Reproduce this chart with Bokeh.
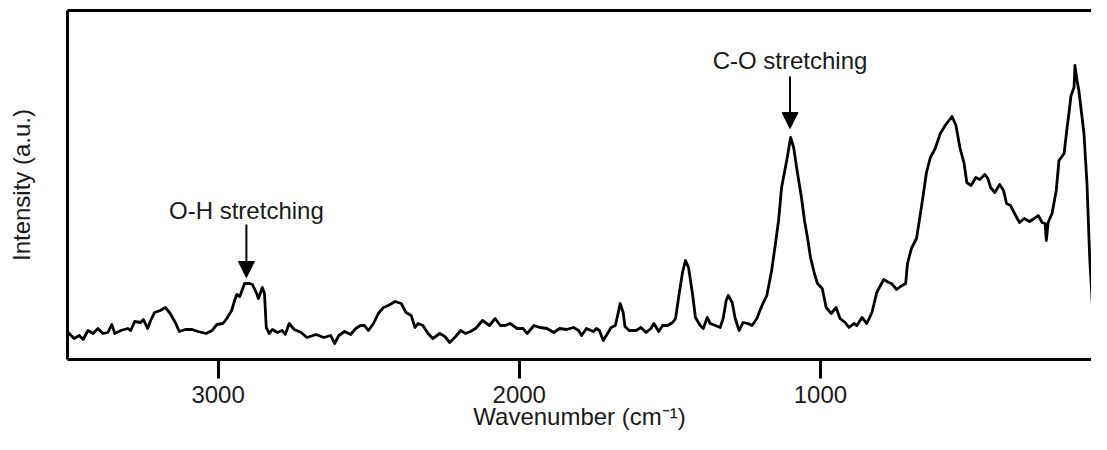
from bokeh.plotting import figure
from bokeh.models import Range1d, FixedTicker, LinearAxis, Label, Arrow, NormalHead
from bokeh.embed import file_html
from bokeh.resources import INLINE

# Raman-type spectrum (wavenumber in cm^-1, intensity in a.u.)
wavenumber = [3500, 3498, 3478, 3461, 3448, 3432, 3415, 3399, 3382, 3366, 3353, 3343, 3323, 3300, 3290, 3277, 3257, 3248, 3234, 3224,
              3211, 3192, 3175, 3159, 3142, 3129, 3109, 3086, 3067, 3040, 3020, 3004, 2984, 2971, 2955, 2945, 2938, 2928,
              2912, 2895, 2886, 2872, 2866, 2853, 2846, 2840, 2830, 2820, 2803, 2787, 2777, 2764, 2747, 2724, 2705, 2675, 2649, 2626,
              2613, 2599, 2580, 2560, 2543, 2527, 2514, 2501, 2484, 2468, 2451, 2435, 2412, 2392, 2376, 2359, 2346, 2336,
              2320, 2303, 2287, 2264, 2247, 2231, 2211, 2195, 2178, 2162, 2145, 2122, 2099, 2080, 2063, 2047, 2030, 2007, 1987, 1974,
              1951, 1932, 1908, 1885, 1866, 1843, 1820, 1803, 1793, 1777, 1754, 1744,
              1734, 1721, 1705, 1695, 1681, 1672, 1665, 1655, 1649, 1635, 1612, 1596, 1579, 1563, 1553, 1537, 1524, 1507, 1491, 1481,
              1471, 1458, 1448, 1438, 1425, 1415, 1399, 1389, 1376, 1366, 1349, 1333, 1323, 1313, 1306, 1293, 1283, 1270, 1257, 1241,
              1227, 1211, 1201, 1191, 1178,
              1162, 1148, 1139, 1129, 1112, 1099, 1089, 1076, 1063, 1053, 1043, 1033, 1020, 1010, 994, 981, 964, 948, 935, 918,
              905, 889, 879, 862, 846, 829, 813, 790, 773, 764, 747, 734, 717, 711, 698, 681, 668, 658, 648, 635,
              619, 602, 586, 576, 563, 550, 537, 523, 514, 500, 484, 471, 454, 444, 435, 421, 405, 392, 382, 369,
              352, 339, 323, 306, 290, 277, 264, 254, 250, 244, 231, 217, 208, 191, 181, 175, 168, 158, 155, 148,
              142, 125, 115, 106, 96, 89, 79]

intensity = [28, 27, 21, 24, 20, 29, 26, 31, 26, 27, 35, 26, 29, 31, 29, 38, 37, 40, 31, 39,
             47, 49, 52, 46, 37, 28, 30, 30, 28, 26, 29, 35, 36, 41, 49, 59, 65, 63,
             76, 76, 75, 66, 61, 72, 66, 32, 26, 30, 27, 29, 25, 36, 30, 27, 22, 25, 22, 24,
             16, 24, 28, 25, 31, 34, 34, 29, 36, 46, 52, 54, 58, 56, 47, 44, 32, 36,
             34, 26, 21, 26, 23, 17, 23, 29, 26, 28, 31, 39, 34, 41, 34, 34, 36, 31, 31, 26,
             34, 32, 31, 27, 31, 30, 32, 29, 24, 31, 28, 31,
             29, 19, 27, 32, 34, 46, 56, 47, 33, 29, 29, 32, 27, 31, 36, 28, 34, 34, 37, 41,
             62, 87, 99, 92, 66, 42, 34, 31, 42, 36, 34, 32, 41, 59, 64, 57, 41, 29, 37, 36,
             34, 41, 49, 56, 64,
             89, 119, 139, 172, 199, 222, 212, 186, 162, 139, 122, 102, 86, 76, 71, 52, 46, 52, 41, 37,
             32, 36, 34, 42, 36, 47, 67, 80, 77, 76, 70, 73, 76, 96, 111, 121, 146, 166, 187, 202,
             211, 226, 234, 238, 243, 234, 212, 196, 177, 174, 182, 180, 185, 181, 172, 167, 175, 169, 156, 154,
             144, 137, 141, 138, 141, 144, 137, 136, 119, 137, 146, 169, 199, 206, 232, 246, 264, 272, 294, 279,
             269, 226, 176, 102, 49, 32, 9]

x_ticks = [3000, 2000, 1000]

# annotations: text, band position (cm^-1), text baseline, arrow top, arrow tip (a.u.)
ann_text = ["O-H stretching", "C-O stretching"]
ann_x = [2906, 1101]
ann_text_y = [149, 299]
ann_arrow_top = [135, 283]
ann_arrow_tip = [82, 231]

FONT = "Liberation Sans"
FS = "24px"
TXT = "#1a1a1a"

p = figure(width=1091, height=434, x_range=Range1d(3500, 100), y_range=Range1d(0, 349),
           output_backend="svg", toolbar_location=None,
           min_border_left=67, min_border_right=0, min_border_top=10, min_border_bottom=75)
p.outline_line_color = None
p.xgrid.visible = False
p.ygrid.visible = False
p.background_fill_color = "white"
p.border_fill_color = "white"

xa = p.xaxis[0]
xa.ticker = FixedTicker(ticks=x_ticks)
xa.axis_line_width = 3
xa.axis_line_color = "black"
xa.major_tick_line_width = 3
xa.major_tick_line_color = "black"
xa.major_tick_out = 19
xa.major_tick_in = 0
xa.minor_tick_line_color = None
xa.major_label_text_font = FONT
xa.major_label_text_font_size = FS
xa.major_label_text_color = TXT
xa.major_label_standoff = 7
xa.axis_label = "Wavenumber (cm\u207b\u00b9)"
xa.axis_label_text_font = FONT
xa.axis_label_text_font_size = FS
xa.axis_label_text_font_style = "normal"
xa.axis_label_text_color = TXT
xa.axis_label_standoff = -3

ya = p.yaxis[0]
ya.ticker = FixedTicker(ticks=[])
ya.axis_line_width = 3
ya.axis_line_color = "black"
ya.major_tick_out = 0
ya.major_tick_in = 0
ya.minor_tick_line_color = None
ya.major_label_text_font_size = "0px"
ya.axis_label = "Intensity (a.u.)"
ya.axis_label_text_font = FONT
ya.axis_label_text_font_size = FS
ya.axis_label_text_font_style = "normal"
ya.axis_label_text_color = TXT
ya.axis_label_standoff = 33

top = LinearAxis(ticker=FixedTicker(ticks=[]), axis_line_width=3, axis_line_color="black",
                 major_tick_out=0, major_tick_in=0, minor_tick_line_color=None,
                 major_label_text_font_size="0px")
p.add_layout(top, "above")

p.line(wavenumber, intensity, line_width=2.8, line_color="black", line_join="round")

for t, x, ty, a0, a1 in zip(ann_text, ann_x, ann_text_y, ann_arrow_top, ann_arrow_tip):
    p.add_layout(Label(x=x, y=ty, text=t, text_align="center", text_baseline="alphabetic",
                       text_font=FONT, text_font_size=FS, text_color=TXT))
    p.add_layout(Arrow(x_start=x, y_start=a0, x_end=x, y_end=a1, line_width=2, line_color="black",
                       end=NormalHead(size=16, fill_color="black", line_color="black", line_width=1)))

open("out.html", "w").write(file_html(p, INLINE))
